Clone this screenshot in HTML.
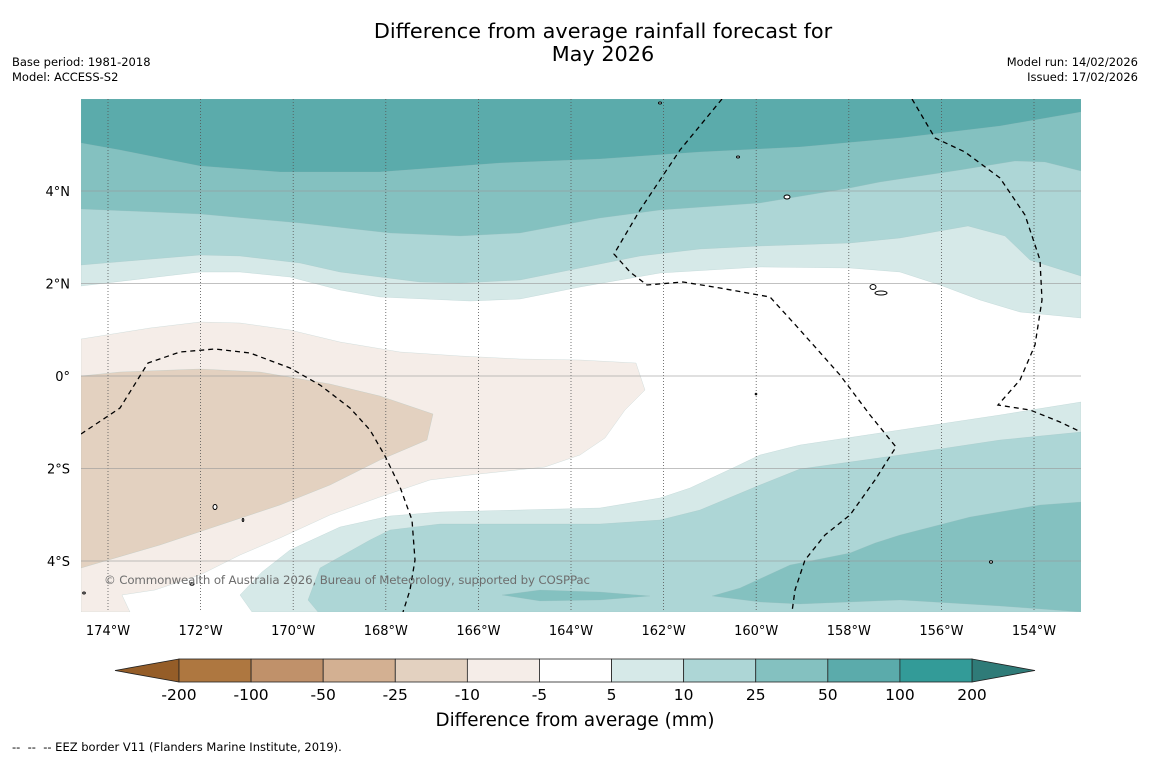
<!DOCTYPE html>
<html><head><meta charset="utf-8">
<style>
html,body{margin:0;padding:0;background:#fff;}
body{width:1150px;height:758px;overflow:hidden;font-family:"DejaVu Sans","Liberation Sans",sans-serif;}
svg text{font-family:"DejaVu Sans","Liberation Sans",sans-serif;}
</style></head>
<body>
<svg id="fig" width="1150" height="758" viewBox="0 0 1150 758" xmlns="http://www.w3.org/2000/svg">
<text x="603" y="38" font-size="20.8" text-anchor="middle">Difference from average rainfall forecast for</text>
<text x="603" y="61" font-size="20.8" text-anchor="middle">May 2026</text>
<text x="12" y="66" font-size="11.5">Base period: 1981-2018</text>
<text x="12" y="81" font-size="11.5">Model: ACCESS-S2</text>
<text x="1138" y="66" font-size="11.5" text-anchor="end">Model run: 14/02/2026</text>
<text x="1138" y="81" font-size="11.5" text-anchor="end">Issued: 17/02/2026</text>
<defs><clipPath id="mapclip"><rect x="81" y="99" width="1000" height="513"/></clipPath></defs>
<g id="map" clip-path="url(#mapclip)">
<rect x="81" y="99" width="1000" height="513" fill="#ffffff"/>
</g>
<text x="104" y="584" font-size="11.8" fill="#6e6e6e" textLength="486">© Commonwealth of Australia 2026, Bureau of Meteorology, supported by COSPPac</text>
<g id="axes"></g>
<g id="cbar"></g>
<text x="575" y="726" font-size="18.3" text-anchor="middle">Difference from average (mm)</text>
<text x="12" y="751" font-size="11.5" xml:space="preserve">--  --  -- EEZ border V11 (Flanders Marine Institute, 2019).</text>
</svg>
<script>
const NS="http://www.w3.org/2000/svg";
// colour levels
const levelLabels=["-200","-100","-50","-25","-10","-5","5","10","25","50","100","200"];
const levelColors=["#ae7740","#c0916a","#d3b092","#e3d1c0","#f5ede8","#ffffff","#d6e9e8","#add6d6","#84c1c0","#5babab","#339b98"];
const extendColors=["#955d28","#2f7b78"];
// axis ticks
const lonTicks=[-174,-172,-170,-168,-166,-164,-162,-160,-158,-156,-154];
const latTicks=[4,2,0,-2,-4];
const latLabels=["4°N","2°N","0°","2°S","4°S"];
function xLon(l){return 108+(l+174)*46.3;}
function yLat(l){return 376-l*46.25;}
// contour polygons (pixel-space outlines traced from forecast field)
const fills=[
 ["north-5-10",6,[[81,99],[1081,99],[1081,318],[1020,312],[980,300],[940,285],[900,272],[850,268],[760,267],[660,273],[620,280],[580,287],[520,299],[470,301],[380,297],[340,290],[290,277],[240,272],[200,272],[81,286]]],
 ["north-10-25",7,[[81,99],[1081,99],[1081,276],[1030,260],[1005,236],[968,226],[900,238],[850,243],[760,246],[700,249],[640,256],[580,268],[520,280],[460,283],[420,282],[340,272],[300,263],[240,256],[200,255],[81,265]]],
 ["north-25-50",8,[[81,99],[1081,99],[1081,171],[1045,162],[1015,161],[960,170],[880,182],[850,188],[760,203],[660,210],[600,218],[520,233],[460,236],[390,233],[300,223],[200,214],[81,209]]],
 ["north-50-100",9,[[81,99],[1081,99],[1081,112],[1000,126],[900,138],[800,147],[700,152],[600,159],[500,163],[380,172],[280,172],[200,166],[120,150],[81,143]]],
 ["south-5-10",6,[[1081,402],[1000,415],[900,430],[800,445],[760,455],[735,467],[690,488],[660,498],[600,508],[520,510],[440,512],[390,516],[340,527],[290,550],[262,572],[240,595],[252,612],[1081,612]]],
 ["south-10-25",7,[[1081,432],[1000,440],[900,455],[800,469],[760,485],[700,510],[660,520],[600,524],[520,524],[440,524],[390,530],[370,540],[320,568],[308,600],[318,612],[1081,612]]],
 ["south-25-50",8,[[712,596],[740,588],[790,565],[850,553],[875,543],[900,535],[970,517],[1040,505],[1081,502],[1081,612],[1000,606],[900,600],[800,604],[760,602]]],
 ["south-25-50-small",8,[[502,595],[540,590],[600,592],[650,596],[600,600],[540,601]]],
 ["west-minus-5-10",4,[[81,339],[150,328],[200,322],[240,323],[290,330],[340,342],[400,352],[460,356],[520,359],[580,360],[636,363],[645,390],[625,410],[605,438],[580,455],[545,467],[470,475],[430,480],[380,497],[330,515],[280,538],[240,555],[200,575],[155,590],[122,595],[130,612],[81,612]]],
 ["west-minus-10-25",3,[[81,376],[120,372],[200,369],[260,372],[330,384],[380,396],[433,414],[427,440],[380,460],[330,485],[280,505],[220,525],[160,545],[81,568]]]
];
const eez=[
 [[81,434],[120,408],[148,363],[180,352],[215,349],[250,353],[290,368],[320,385],[350,408],[370,430],[385,456],[400,487],[412,520],[415,560],[410,590],[403,612]],
 [[722,99],[680,150],[640,210],[614,254],[630,272],[647,285],[683,282],[720,288],[770,297],[800,330],[840,375],[870,415],[896,447],[875,480],[850,515],[825,535],[805,560],[795,590],[792,612]],
 [[912,99],[935,138],[965,152],[1000,178],[1025,215],[1040,260],[1042,300],[1035,345],[1020,380],[998,405],[1030,410],[1060,422],[1081,432]]
];
const islands=[[660,103,1.5,1],[738,157,1.5,1],[787,197,3,2],[873,287,3,2.5],[881,293,6,2],[215,507,2,2.5],[243,520,0.8,1.5],[192,584,2,1.2],[84,593,1.3,1],[991,562,1.5,1.2],[756,394,0.8,0.8]];
const map=document.getElementById('map');
fills.forEach(f=>{
 const p=document.createElementNS(NS,'polygon');
 p.setAttribute('points',f[2].map(q=>q.join(',')).join(' '));
 p.setAttribute('fill',levelColors[f[1]]);
 p.setAttribute('stroke','#9bb');p.setAttribute('stroke-width','0.4');p.setAttribute('stroke-opacity','0.5');
 
 
 map.appendChild(p);
});
lonTicks.forEach(l=>{
 const ln=document.createElementNS(NS,'line');
 ln.setAttribute('x1',xLon(l));ln.setAttribute('x2',xLon(l));ln.setAttribute('y1',99);ln.setAttribute('y2',612);
 ln.setAttribute('stroke','#555');ln.setAttribute('stroke-width','0.8');ln.setAttribute('stroke-dasharray','1 2');
 
 
 map.appendChild(ln);
});
latTicks.forEach(l=>{
 const ln=document.createElementNS(NS,'line');
 ln.setAttribute('x1',81);ln.setAttribute('x2',1081);ln.setAttribute('y1',yLat(l));ln.setAttribute('y2',yLat(l));
 ln.setAttribute('stroke','#999');ln.setAttribute('stroke-width','0.7');ln.setAttribute('stroke-opacity','0.8');
 
 
 map.appendChild(ln);
});
eez.forEach(e=>{
 const p=document.createElementNS(NS,'polyline');
 p.setAttribute('points',e.map(q=>q.join(',')).join(' '));
 p.setAttribute('fill','none');p.setAttribute('stroke','#000');p.setAttribute('stroke-width','1.3');p.setAttribute('stroke-dasharray','5 4');
 
 
 map.appendChild(p);
});
islands.forEach(i=>{
 const c=document.createElementNS(NS,'ellipse');
 c.setAttribute('cx',i[0]);c.setAttribute('cy',i[1]);c.setAttribute('rx',i[2]);c.setAttribute('ry',i[3]);
 c.setAttribute('fill','#fff');c.setAttribute('stroke','#000');c.setAttribute('stroke-width','1');
 
 
 map.appendChild(c);
});
const axes=document.getElementById('axes');
lonTicks.forEach(l=>{
 const t=document.createElementNS(NS,'text');
 t.setAttribute('x',xLon(l));t.setAttribute('y',635);t.setAttribute('font-size','13');t.setAttribute('text-anchor','middle');
 t.textContent=Math.abs(l)+'°W';
 
 
 axes.appendChild(t);
});
latTicks.forEach((l,i)=>{
 const t=document.createElementNS(NS,'text');
 t.setAttribute('x',70);t.setAttribute('y',yLat(l)+5);t.setAttribute('font-size','13');t.setAttribute('text-anchor','end');
 t.textContent=latLabels[i];
 
 
 axes.appendChild(t);
});
// colorbar
const cb=document.getElementById('cbar');
const cx0=179,cx1=972,cy0=659,cy1=682,n=levelColors.length,bw=(cx1-cx0)/n;
const lt=document.createElementNS(NS,'polygon');
lt.setAttribute('points',`${cx0},${cy0} 115,${(cy0+cy1)/2} ${cx0},${cy1}`);
lt.setAttribute('fill',extendColors[0]);lt.setAttribute('stroke','#222');lt.setAttribute('stroke-width','0.8');


cb.appendChild(lt);
const rt=document.createElementNS(NS,'polygon');
rt.setAttribute('points',`${cx1},${cy0} 1035,${(cy0+cy1)/2} ${cx1},${cy1}`);
rt.setAttribute('fill',extendColors[1]);rt.setAttribute('stroke','#222');rt.setAttribute('stroke-width','0.8');


cb.appendChild(rt);
levelColors.forEach((c,i)=>{
 const r=document.createElementNS(NS,'rect');
 r.setAttribute('x',cx0+i*bw);r.setAttribute('y',cy0);r.setAttribute('width',bw);r.setAttribute('height',cy1-cy0);
 r.setAttribute('fill',c);r.setAttribute('stroke','#222');r.setAttribute('stroke-width','0.8');
 
 
 cb.appendChild(r);
});
levelLabels.forEach((s,i)=>{
 const t=document.createElementNS(NS,'text');
 t.setAttribute('x',cx0+i*bw);t.setAttribute('y',700);t.setAttribute('font-size','15.5');t.setAttribute('text-anchor','middle');
 t.textContent=s;
 
 
 cb.appendChild(t);
});
</script>
</body></html>
